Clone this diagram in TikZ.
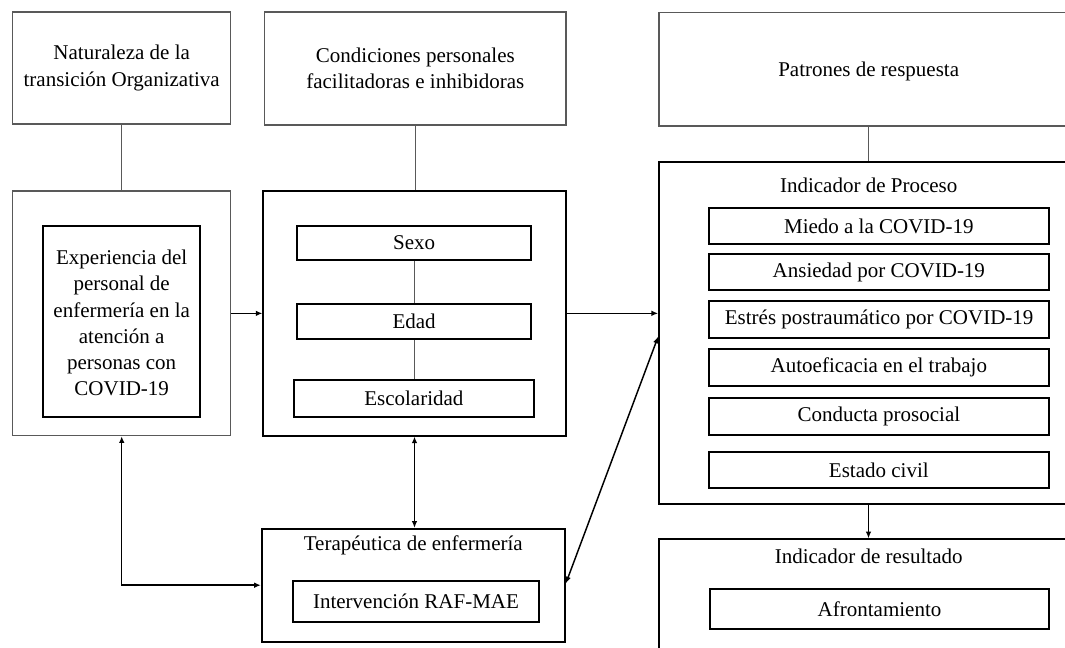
\documentclass[tikz,border=0pt]{standalone}
\usepackage{fontspec}
\setmainfont{Liberation Serif}
\usetikzlibrary{fit,arrows.meta}
\tikzset{
 thinbox/.style={draw=black!65, line width=0.8pt, inner sep=0pt},
 thickbox/.style={draw=black, line width=1.3pt, inner sep=0pt},
 link/.style={draw=black!65, line width=0.8pt},
 arr/.style={draw=black, line width=1.1pt, -{Latex[length=5pt,width=4.2pt]}},
 darr/.style={draw=black, line width=1.1pt, {Latex[length=5pt,width=4.2pt]}-{Latex[length=5pt,width=4.2pt]}},
 lbl/.style={inner sep=0pt, align=center},
}
\begin{document}
\begin{tikzpicture}[x=0.75pt,y=-0.75pt, font=\fontsize{15.75}{19.6}\selectfont]
\useasboundingbox (0,0) rectangle (1065,647);
\clip (0,0) rectangle (1065,647);
\fill[white] (0,0) rectangle (1065,647);
% top boxes
\node[thinbox, fit={(12.7,12) (230.7,124)}] (nat) {};
\node[lbl] (natT) at (nat.center) {Naturaleza de la\\transición Organizativa};
\node[thinbox, fit={(264.7,12) (566,125)}] (cond) {};
\node[lbl] (condT) at (cond.center) {Condiciones personales\\facilitadoras e inhibidoras};
\node[thinbox, fit={(659,12.7) (1078,126)}] (pat) {};
\node[lbl] (patT) at (868.7,71) {Patrones de respuesta};
% left
\node[thinbox, fit={(12.7,191) (230.7,435.7)}] (left) {};
\node[thickbox, fit={(43.3,225.7) (200,417.3)}] (exp) {};
\node[lbl] (expT) at (121.7,323) {Experiencia del\\personal de\\enfermería en la\\atención a\\personas con\\COVID-19};
% middle
\node[thickbox, fit={(263.3,191) (565.7,435.7)}] (mid) {};
\node[thickbox, fit={(297,225.7) (531.3,260)}] (sexo) {};
\node[lbl] (sexoT) at (sexo.center) {Sexo};
\node[thickbox, fit={(297,304) (531.3,339.3)}] (edad) {};
\node[lbl] (edadT) at (edad.center) {Edad};
\node[thickbox, fit={(294,380) (533.7,417.3)}] (esc) {};
\node[lbl] (escT) at (esc.center) {Escolaridad};
% terapeutica
\node[thickbox, fit={(261.7,528.7) (565,641.7)}] (tera) {};
\node[lbl] (teraT) at (413.3,545) {Terapéutica de enfermería};
\node[thickbox, fit={(293.3,581) (538.7,621.7)}] (raf) {};
\node[lbl] (rafT) at (raf.center) {Intervención RAF-MAE};
% proceso
\node[thickbox, fit={(659,162) (1078,504.3)}] (proc) {};
\node[lbl] (procT) at (868.7,185) {Indicador de Proceso};
\node[thickbox, fit={(709,208.3) (1048.7,244)}] (miedo) {};
\node[lbl] (miedoT) at (miedo.center) {Miedo a la COVID-19};
\node[thickbox, fit={(709,254) (1048.7,290.3)}] (ans) {};
\node[lbl] (ansT) at (ans.center) {Ansiedad por COVID-19};
\node[thickbox, fit={(709,300.7) (1049.3,338)}] (estres) {};
\node[lbl] (estresT) at (estres.center) {Estrés postraumático por COVID-19};
\node[thickbox, fit={(709,349) (1048.7,386)}] (auto) {};
\node[lbl] (autoT) at (auto.center) {Autoeficacia en el trabajo};
\node[thickbox, fit={(709,398.3) (1048.7,435.3)}] (cond2) {};
\node[lbl] (cond2T) at (cond2.center) {Conducta prosocial};
\node[thickbox, fit={(709,452.3) (1048.7,488.3)}] (civil) {};
\node[lbl] (civilT) at (civil.center) {Estado civil};
% resultado
\node[draw=black, line width=1pt, inner sep=0pt, fit={(659,539) (1078,700)}] (res) {};
\node[lbl] (resT) at (868.7,556) {Indicador de resultado};
\node[thickbox, fit={(709.7,589.3) (1049.3,629.3)}] (afr) {};
\node[lbl] (afrT) at (afr.center) {Afrontamiento};
% plain links
\draw[link] (nat.south) -- (left.north);
\draw[link] (cond.south) -- (cond.south |- mid.north);
\draw[link] (pat.south) -- (pat.south |- proc.north);
\draw[link] (sexo.south) -- (sexo.south |- edad.north);
\draw[link] (edad.south) -- (edad.south |- esc.north);
% arrows
\draw[arr] (left.east) -- (mid.west);
\draw[arr] (mid.east) -- (mid.east -| proc.west);
\draw[darr] ([yshift=1.4pt]tera.east) -- ([yshift=-2.6pt]proc.west);
\draw[darr] (left.south) |- (tera.west);
\draw[darr] (mid.south) -- (mid.south |- tera.north);
\draw[arr] (proc.south) -- (proc.south |- res.north);
\end{tikzpicture}
\end{document}
